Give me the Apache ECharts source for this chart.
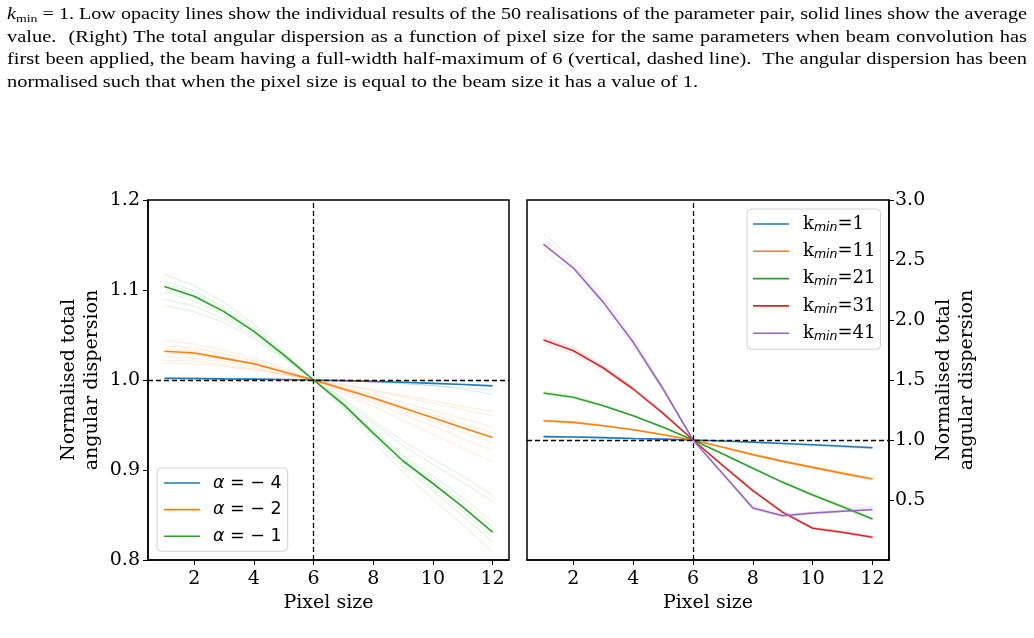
<!DOCTYPE html>
<html>
<head>
<meta charset="utf-8">
<script src="https://cdn.jsdelivr.net/npm/echarts@6/dist/echarts.min.js"></script>
<style>
  html, body { margin:0; padding:0; background:#fff; }
  #chart { position:absolute; left:0; top:0; width:1034px; height:638px; }
  #caption { position:absolute; left:7px; top:3px; width:1020px; font-family:'Liberation Serif', serif; font-size:16px; line-height:22.6px; color:#000; pointer-events:none; }
  #caption .ln { white-space:nowrap; transform-origin:0 0; }
  #caption .ln span { white-space:nowrap; }
  #caption sub { font-size:11px; vertical-align:-3px; line-height:0; font-style:normal; }
</style>
</head>
<body>
<div id="chart"></div>
<div id="caption">
  <div class="ln" data-j="1"><span><i>k</i><sub>min</sub> = 1. Low opacity lines show the individual results of the 50 realisations of the parameter pair, solid lines show the average</span></div>
  <div class="ln" data-j="1"><span>value. &nbsp;(Right) The total angular dispersion as a function of pixel size for the same parameters when beam convolution has</span></div>
  <div class="ln" data-j="1"><span>first been applied, the beam having a full-width half-maximum of 6 (vertical, dashed line). &nbsp;The angular dispersion has been</span></div>
  <div class="ln" data-j="0"><span>normalised such that when the pixel size is equal to the beam size it has a value of 1.</span></div>
</div>
<script>
// ---------------- DATA ----------------
const pixelSize = [1, 2, 3, 4, 5, 6, 7, 8, 9, 10, 11, 12];
const xTicks = [2, 4, 6, 8, 10, 12];
const leftYTicks = [0.8, 0.9, 1.0, 1.1, 1.2];
const rightYTicks = [0.5, 1.0, 1.5, 2.0, 2.5, 3.0];
const beamSize = 6;

const leftNames = ['α = − 4', 'α = − 2', 'α = − 1'];
const rightNames = ['kmin=1', 'kmin=11', 'kmin=21', 'kmin=31', 'kmin=41'];
const colors = ['#1f77b4', '#ff7f0e', '#2ca02c', '#d62728', '#9467bd'];

// Left panel: averages
const leftAlpha4 = [1.002, 1.0017, 1.0013, 1.001, 1.0005, 1.0, 0.9993, 0.9985, 0.9975, 0.9962, 0.995, 0.9935];
const leftAlpha2 = [1.032, 1.030, 1.024, 1.018, 1.009, 1.0, 0.990, 0.980, 0.969, 0.958, 0.947, 0.936];
const leftAlpha1 = [1.104, 1.093, 1.076, 1.054, 1.028, 1.0, 0.973, 0.941, 0.910, 0.885, 0.859, 0.831];

// Left panel: a few individual realisations (low opacity)
const leftReal4 = [
  [1.003, 1.0025, 1.002, 1.0015, 1.0008, 1.0, 0.999, 0.9975, 0.996, 0.994, 0.9915, 0.989],
  [1.0015, 1.0013, 1.001, 1.0007, 1.0004, 1.0, 0.9993, 0.998, 0.996, 0.9935, 0.990, 0.984],
  [1.001, 1.001, 1.0008, 1.0006, 1.0003, 1.0, 0.9996, 0.999, 0.998, 0.9968, 0.9955, 0.994]
];
const leftReal2 = [
  [1.044, 1.040, 1.033, 1.024, 1.013, 1.0, 0.985, 0.971, 0.955, 0.940, 0.924, 0.909],
  [1.038, 1.035, 1.029, 1.021, 1.011, 1.0, 0.988, 0.975, 0.962, 0.949, 0.935, 0.922],
  [1.035, 1.032, 1.026, 1.019, 1.010, 1.0, 0.989, 0.978, 0.966, 0.954, 0.942, 0.930],
  [1.030, 1.028, 1.023, 1.017, 1.009, 1.0, 0.991, 0.981, 0.971, 0.961, 0.951, 0.941],
  [1.026, 1.024, 1.020, 1.014, 1.007, 1.0, 0.992, 0.984, 0.975, 0.966, 0.957, 0.948],
  [1.019, 1.018, 1.015, 1.011, 1.006, 1.0, 0.994, 0.988, 0.981, 0.974, 0.967, 0.960],
  [1.022, 1.021, 1.017, 1.012, 1.006, 1.0, 0.995, 0.989, 0.983, 0.977, 0.971, 0.965]
];
const leftReal1 = [
  [1.117, 1.105, 1.086, 1.062, 1.032, 1.0, 0.968, 0.932, 0.897, 0.868, 0.839, 0.809],
  [1.110, 1.099, 1.081, 1.058, 1.030, 1.0, 0.970, 0.937, 0.904, 0.877, 0.849, 0.820],
  [1.107, 1.096, 1.078, 1.056, 1.029, 1.0, 0.971, 0.939, 0.907, 0.881, 0.854, 0.826],
  [1.101, 1.091, 1.074, 1.053, 1.027, 1.0, 0.974, 0.943, 0.913, 0.889, 0.864, 0.837],
  [1.098, 1.088, 1.072, 1.051, 1.026, 1.0, 0.975, 0.945, 0.916, 0.893, 0.869, 0.843],
  [1.083, 1.076, 1.064, 1.046, 1.024, 1.0, 0.978, 0.952, 0.927, 0.906, 0.886, 0.865],
  [1.090, 1.082, 1.068, 1.049, 1.025, 1.0, 0.980, 0.955, 0.932, 0.912, 0.893, 0.872]
];

// Right panel: averages
const rightK1  = [1.028, 1.025, 1.020, 1.013, 1.007, 1.0, 0.992, 0.982, 0.971, 0.960, 0.948, 0.936];
const rightK11 = [1.161, 1.147, 1.119, 1.086, 1.044, 1.0, 0.939, 0.878, 0.822, 0.772, 0.722, 0.675];
const rightK21 = [1.392, 1.356, 1.286, 1.203, 1.106, 1.0, 0.883, 0.764, 0.647, 0.542, 0.444, 0.342];
const rightK31 = [1.833, 1.744, 1.600, 1.425, 1.222, 1.0, 0.786, 0.578, 0.397, 0.264, 0.231, 0.189];
const rightK41 = [2.633, 2.433, 2.147, 1.814, 1.425, 1.0, 0.717, 0.433, 0.369, 0.392, 0.406, 0.419];

// Right panel: a few individual realisations (low opacity)
const rightRealK1  = [
  [1.032, 1.028, 1.022, 1.015, 1.008, 1.0, 0.990, 0.978, 0.966, 0.953, 0.940, 0.926],
  [1.024, 1.022, 1.018, 1.012, 1.006, 1.0, 0.993, 0.985, 0.976, 0.966, 0.955, 0.945]
];
const rightRealK11 = [
  [1.170, 1.155, 1.125, 1.090, 1.046, 1.0, 0.935, 0.872, 0.814, 0.762, 0.711, 0.662],
  [1.152, 1.139, 1.113, 1.082, 1.042, 1.0, 0.943, 0.884, 0.830, 0.782, 0.733, 0.688]
];
const rightRealK21 = [
  [1.405, 1.368, 1.295, 1.209, 1.109, 1.0, 0.879, 0.757, 0.638, 0.531, 0.432, 0.328],
  [1.380, 1.345, 1.278, 1.197, 1.103, 1.0, 0.887, 0.771, 0.656, 0.553, 0.456, 0.356]
];
const rightRealK31 = [
  [1.860, 1.770, 1.620, 1.440, 1.230, 1.0, 0.780, 0.570, 0.390, 0.258, 0.222, 0.180],
  [1.845, 1.757, 1.610, 1.432, 1.226, 1.0, 0.783, 0.574, 0.394, 0.261, 0.227, 0.185],
  [1.810, 1.720, 1.580, 1.410, 1.210, 1.0, 0.790, 0.590, 0.410, 0.272, 0.240, 0.200]
];
const rightRealK41 = [
  [2.720, 2.500, 2.200, 1.850, 1.440, 1.0, 0.710, 0.420, 0.360, 0.380, 0.400, 0.430],
  [2.680, 2.470, 2.175, 1.832, 1.432, 1.0, 0.713, 0.428, 0.365, 0.386, 0.403, 0.440],
  [2.655, 2.450, 2.160, 1.822, 1.428, 1.0, 0.715, 0.436, 0.372, 0.395, 0.410, 0.425],
  [2.580, 2.390, 2.110, 1.790, 1.410, 1.0, 0.720, 0.450, 0.380, 0.400, 0.420, 0.450]
];

// ---------------- CAPTION LAYOUT (fit text widths) ----------------
(function () {
  const fullW = 1020, lastW = 691;
  const lns = Array.from(document.querySelectorAll('#caption .ln'));
  const nat = lns.map(d => d.firstElementChild.getBoundingClientRect().width);
  const k = lastW / nat[nat.length - 1];
  lns.forEach((d, i) => {
    if (d.dataset.j === '1') {
      const ki = Math.min(k, fullW / nat[i]);
      d.style.width = (fullW / ki) + 'px';
      d.style.textAlign = 'justify';
      d.style.textAlignLast = 'justify';
      d.style.whiteSpace = 'normal';
      d.firstElementChild.style.whiteSpace = 'normal';
      d.style.transform = 'scaleX(' + ki + ')';
    } else {
      d.style.transform = 'scaleX(' + k + ')';
    }
  });
})();

// ---------------- CHART ----------------
const pts = arr => pixelSize.map((x, i) => [x, arr[i]]);
const chart = echarts.init(document.getElementById('chart'), null, { renderer: 'canvas' });

const serif = 'DejaVu Serif';
const series = [];
function addGroup(grid, name, color, mean, reals) {
  reals.forEach(r => series.push({
    type: 'line', xAxisIndex: grid, yAxisIndex: grid, data: pts(r),
    symbol: 'none', silent: true, z: 1, animation: false,
    lineStyle: { color: color, width: 1, opacity: 0.17 }
  }));
  series.push({
    name: name, type: 'line', xAxisIndex: grid, yAxisIndex: grid, data: pts(mean),
    symbol: 'none', z: 3, animation: false,
    itemStyle: { color: color },
    lineStyle: { color: color, width: 1.6 }
  });
}
addGroup(0, leftNames[0], colors[0], leftAlpha4, leftReal4);
addGroup(0, leftNames[1], colors[1], leftAlpha2, leftReal2);
addGroup(0, leftNames[2], colors[2], leftAlpha1, leftReal1);
addGroup(1, rightNames[0], colors[0], rightK1, rightRealK1);
addGroup(1, rightNames[1], colors[1], rightK11, rightRealK11);
addGroup(1, rightNames[2], colors[2], rightK21, rightRealK21);
addGroup(1, rightNames[3], colors[3], rightK31, rightRealK31);
addGroup(1, rightNames[4], colors[4], rightK41, rightRealK41);

// dashed reference lines
[0, 1].forEach(g => series.push({
  type: 'line', xAxisIndex: g, yAxisIndex: g, data: [], silent: true, z: 5,
  markLine: {
    symbol: 'none', silent: true, animation: false, label: { show: false },
    lineStyle: { color: '#000', width: 1.3, type: [5, 3] },
    data: [{ xAxis: beamSize }, { yAxis: 1.0 }]
  }
}));

const xAxisBase = g => ({
  type: 'value', gridIndex: g, min: 0.45, max: 12.55,
  name: 'Pixel size', nameLocation: 'middle', nameGap: 34,
  nameTextStyle: { fontFamily: serif, fontSize: 19, color: '#000' },
  axisLine: { show: true, onZero: false, lineStyle: { color: '#000', width: 1.5 } },
  axisTick: { show: true, inside: false, length: 5, customValues: xTicks, lineStyle: { color: '#000', width: 1 } },
  axisLabel: { customValues: xTicks, fontFamily: serif, fontSize: 19, color: '#000', margin: 10 },
  splitLine: { show: false }
});

const yName = 'Normalised total\nangular dispersion';
const option = {
  animation: false,
  backgroundColor: '#fff',
  grid: [
    { left: 148, top: 200, width: 361, height: 360, show: true, borderColor: '#000', borderWidth: 1.5, backgroundColor: 'transparent' },
    { left: 527, top: 200, width: 362, height: 360, show: true, borderColor: '#000', borderWidth: 1.5, backgroundColor: 'transparent' }
  ],
  xAxis: [xAxisBase(0), xAxisBase(1)],
  yAxis: [
    {
      type: 'value', gridIndex: 0, min: 0.8, max: 1.2, position: 'left',
      name: yName, nameLocation: 'middle', nameGap: 44, nameRotate: 90,
      nameTextStyle: { fontFamily: serif, fontSize: 19, color: '#000', lineHeight: 23 },
      axisLine: { show: true, onZero: false, lineStyle: { color: '#000', width: 1.5 } },
      axisTick: { show: true, length: 5, customValues: leftYTicks, lineStyle: { color: '#000', width: 1 } },
      axisLabel: { customValues: leftYTicks, fontFamily: serif, fontSize: 19, color: '#000', margin: 8, formatter: v => v.toFixed(1) },
      splitLine: { show: false }
    },
    {
      type: 'value', gridIndex: 1, min: 0.0, max: 3.0, position: 'right',
      name: yName, nameLocation: 'middle', nameGap: 44, nameRotate: 90,
      nameTextStyle: { fontFamily: serif, fontSize: 19, color: '#000', lineHeight: 23 },
      axisLine: { show: true, onZero: false, lineStyle: { color: '#000', width: 1.5 } },
      axisTick: { show: true, length: 5, customValues: rightYTicks, lineStyle: { color: '#000', width: 1 } },
      axisLabel: { customValues: rightYTicks, fontFamily: serif, fontSize: 19, color: '#000', margin: 6, formatter: v => v.toFixed(1) },
      splitLine: { show: false }
    }
  ],
  legend: [
    {
      data: leftNames, orient: 'vertical', left: 157, top: 468,
      icon: 'rect', itemWidth: 36, itemHeight: 1.6, itemGap: 8.6,
      backgroundColor: 'rgba(255,255,255,0.85)', borderColor: '#d0d0d0', borderWidth: 1, borderRadius: 4,
      padding: [6, 6, 6, 7],
      textStyle: { fontFamily: 'DejaVu Sans', fontSize: 17.5, color: '#000', padding: [0, 0, 0, 8],
        rich: { a: { fontFamily: 'DejaVu Sans', fontStyle: 'italic', fontSize: 17.5 }, r: { fontFamily: 'DejaVu Sans', fontSize: 17.5 } } },
      formatter: n => '{a|α}{r|' + n.slice(1) + '}'
    },
    {
      data: rightNames, orient: 'vertical', left: 747, top: 209,
      icon: 'rect', itemWidth: 36, itemHeight: 1.6, itemGap: 8.3,
      backgroundColor: 'rgba(255,255,255,0.85)', borderColor: '#d0d0d0', borderWidth: 1, borderRadius: 4,
      padding: [6, 5, 6, 6],
      textStyle: { fontFamily: serif, fontSize: 18, color: '#000', padding: [0, 0, 0, 9],
        rich: {
          k: { fontFamily: serif, fontSize: 18, height: 20 },
          s: { fontFamily: 'DejaVu Sans', fontStyle: 'italic', fontSize: 12.5, padding: [7, 0, 0, 0] },
          e: { fontFamily: serif, fontSize: 18, height: 20 }
        } },
      formatter: n => '{k|k}{s|min}{e|' + n.slice(4) + '}'
    }
  ],
  series: series
};
chart.setOption(option);
</script>
</body>
</html>
